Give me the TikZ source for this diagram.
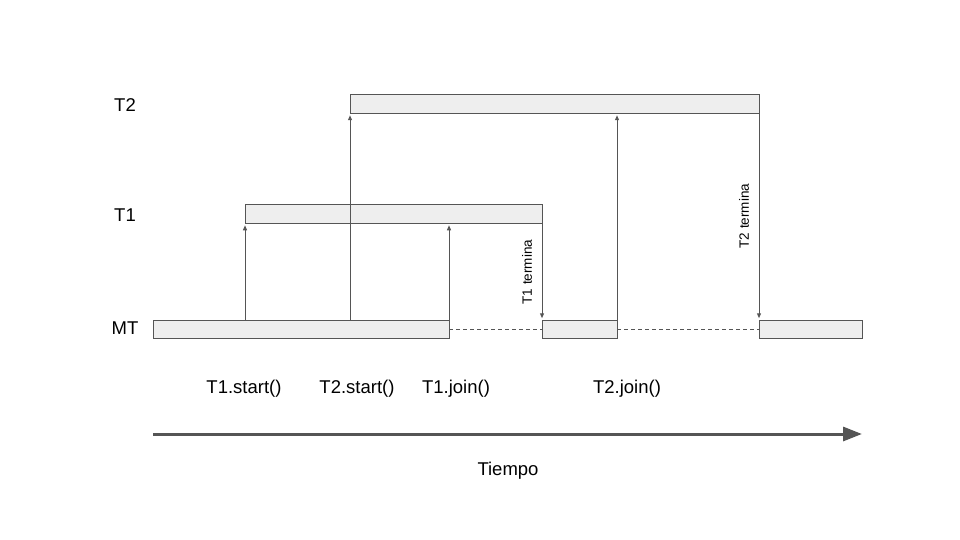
\documentclass[tikz,border=0pt]{standalone}
\usepackage{fontspec}
\setmainfont{Liberation Sans}
\usetikzlibrary{arrows.meta}
\definecolor{strk}{HTML}{555555}
\definecolor{barfill}{HTML}{EEEEEE}
\begin{document}
\begin{tikzpicture}[x=1pt,y=-1pt,
  bar/.style={draw=strk,fill=barfill,line width=1pt,inner sep=0pt,outer sep=0pt,minimum height=18.5pt},
  lbl/.style={font=\fontsize{18.5}{20}\selectfont,inner sep=0pt},
  small/.style={font=\fontsize{13.5}{15}\selectfont,inner sep=0pt,rotate=90},
  conn/.style={draw=strk,line width=1pt,-{Triangle[length=5pt,width=4pt]},shorten >=2pt},
  wait/.style={draw=strk,line width=0.8pt,dash pattern=on 4pt off 3pt}]
\useasboundingbox (0,0) rectangle (960,540);
% bars
\node[bar,minimum width=409pt] (t2) at (554.5,104) {};
\node[bar,minimum width=297pt] (t1) at (393.5,214) {};
\node[bar,minimum width=296pt] (mt1) at (301,329.5) {};
\node[bar,minimum width=75pt] (mt2) at (579.5,329.5) {};
\node[bar,minimum width=103pt] (mt3) at (810.5,329.5) {};
% row labels
\node[lbl] (lt2) at (125,105) {T2};
\node[lbl] (lt1) at (125,215) {T1};
\node[lbl] (lmt) at (125,328) {MT};
% waiting dashes
\draw[wait] (mt1.east) -- (mt2.west);
\draw[wait] (mt2.east) -- (mt3.west);
% connectors
\draw[conn] (mt1.north -| t1.west) -- (t1.south west);
\draw[conn] (mt1.north -| t2.west) -- (t2.south west);
\draw[conn] (mt1.north east) -- (t1.south -| mt1.east);
\draw[conn] (t1.south east) -- (mt2.north west);
\draw[conn] (mt2.north east) -- (t2.south -| mt2.east);
\draw[conn] (t2.south east) -- (mt3.north west);
% rotated labels
\node[small] (e1) at (527,272) {T1 termina};
\node[small] (e2) at (744,216) {T2 termina};
% call labels
\node[lbl] (c1) at (244,389) {T1.start()};
\node[lbl] (c2) at (357,389) {T2.start()};
\node[lbl] (c3) at (456,389) {T1.join()};
\node[lbl] (c4) at (627,389) {T2.join()};
% time axis
\coordinate (ta) at (153,434);
\coordinate (tb) at (862,434);
\draw[draw=strk,line width=3pt,-{Triangle[length=19pt,width=14pt]}] (ta) -- (tb);
\node[lbl] (tiempo) at (508,471) {Tiempo};
\end{tikzpicture}
\end{document}
